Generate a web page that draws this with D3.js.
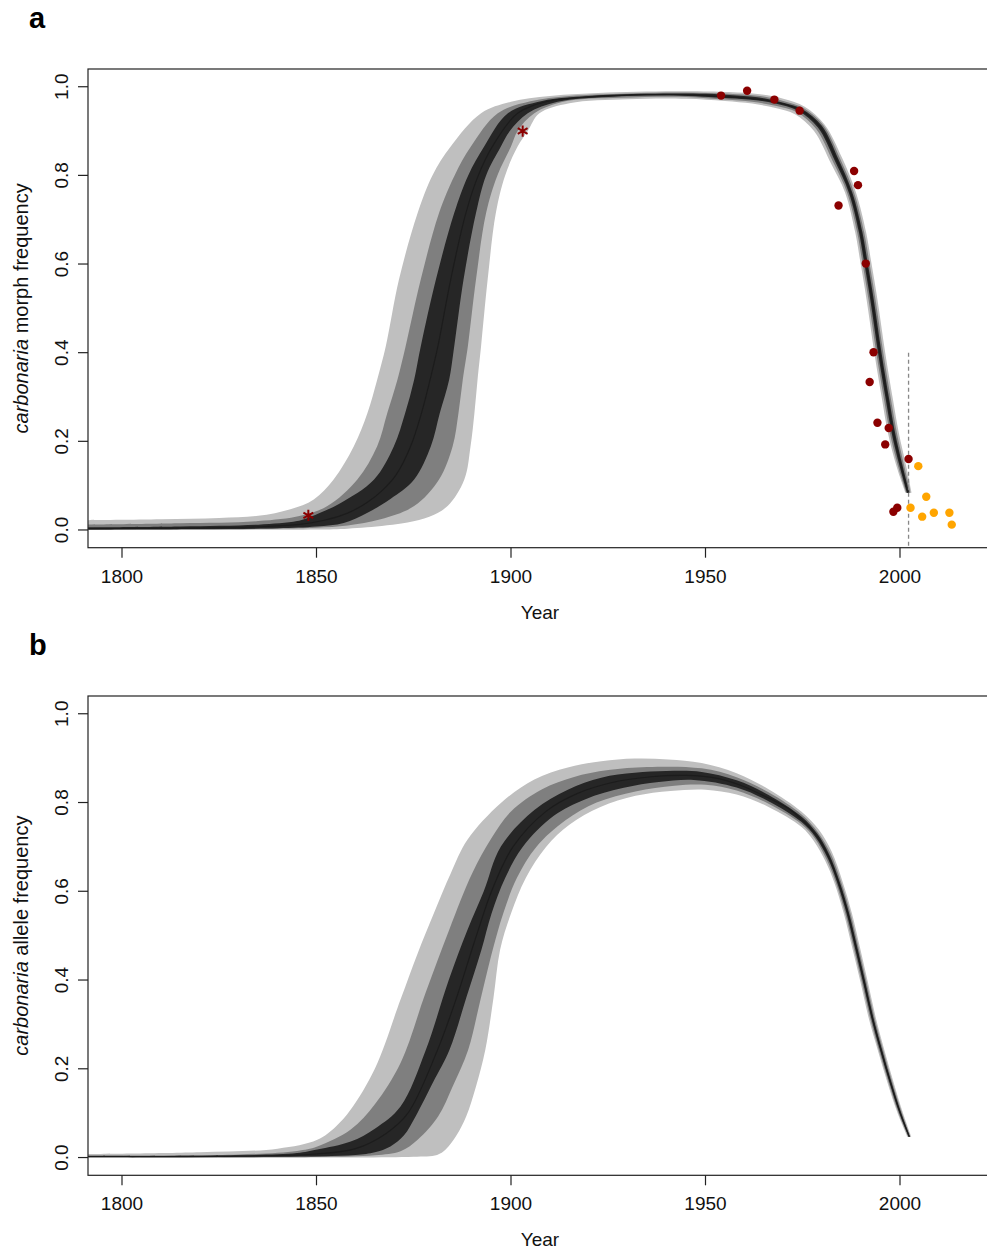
<!DOCTYPE html>
<html>
<head>
<meta charset="utf-8">
<script src="https://d3js.org/d3.v7.min.js"></script>
<style>
  body { margin: 0; background: #fff; }
  svg { display: block; font-family: "Liberation Sans", Arial, Helvetica, sans-serif; }
</style>
</head>
<body>
<svg id="chart" width="987" height="1251"></svg>

<script>
// ---- data (year, frequency) ----
// panel a: carbonaria morph frequency, credible bands
var aHi95 = [[1791.3,0.022],[1810,0.024],[1825,0.027],[1835,0.032],[1843.3,0.047],[1849.3,0.069],[1854.4,0.114],[1859.6,0.189],[1863.1,0.264],[1865.6,0.339],[1867.8,0.414],[1871.2,0.565],[1876,0.715],[1879.8,0.8],[1884.5,0.865],[1892.3,0.94],[1900,0.966],[1910,0.979],[1925,0.987],[1945,0.99],[1956,0.988],[1964,0.983],[1970,0.973],[1975.5,0.955],[1980.6,0.915],[1985.1,0.84],[1988.7,0.761],[1991.3,0.671],[1992.5,0.61],[1994.2,0.52],[1996.2,0.4],[1998.2,0.294],[1999.7,0.219],[2001.6,0.144],[2003,0.084]];
var aHi80 = [[1791.3,0.012],[1815,0.015],[1835,0.02],[1845.9,0.032],[1852.8,0.054],[1860.5,0.114],[1865.6,0.189],[1868.2,0.264],[1870.8,0.339],[1872.9,0.414],[1876.8,0.565],[1881.5,0.715],[1885.5,0.8],[1889.7,0.865],[1896.6,0.94],[1905,0.967],[1915,0.979],[1930,0.985],[1945,0.987],[1956,0.984],[1964,0.979],[1970,0.968],[1975.2,0.952],[1980.3,0.913],[1984.6,0.838],[1988.2,0.761],[1990.8,0.671],[1992,0.61],[1993.7,0.52],[1995.7,0.4],[1997.7,0.294],[1999.2,0.219],[2001.1,0.144],[2002.7,0.084]];
var aHi50 = [[1791.3,0.006],[1815,0.008],[1835,0.012],[1845,0.02],[1848.5,0.03],[1856,0.06],[1864.8,0.114],[1869.9,0.189],[1872.8,0.264],[1875.1,0.339],[1876.8,0.414],[1880.7,0.565],[1885.4,0.715],[1889,0.8],[1893.1,0.865],[1899.2,0.94],[1908,0.968],[1920,0.979],[1935,0.984],[1950,0.984],[1958,0.98],[1965,0.974],[1970,0.964],[1974.8,0.95],[1979.9,0.912],[1984.15,0.837],[1987.75,0.761],[1990.35,0.671],[1991.55,0.61],[1993.25,0.52],[1995.25,0.4],[1997.25,0.294],[1998.75,0.219],[2000.7,0.144],[2002.4,0.084]];
var aMed  = [[1791.3,0.003],[1815,0.004],[1835,0.007],[1845,0.012],[1852,0.022],[1858,0.038],[1863,0.062],[1867,0.09],[1870.5,0.125],[1874.2,0.189],[1877,0.264],[1879.2,0.339],[1881.2,0.414],[1884.5,0.565],[1888.4,0.715],[1891.6,0.8],[1895.2,0.865],[1901.7,0.94],[1910,0.968],[1920,0.977],[1935,0.982],[1945,0.982],[1954,0.978],[1961,0.974],[1967.7,0.966],[1974.3,0.948],[1979.4,0.91],[1983.7,0.835],[1987.3,0.761],[1989.9,0.671],[1991.1,0.61],[1992.8,0.52],[1994.8,0.4],[1996.8,0.294],[1998.3,0.219],[2000.3,0.144],[2002.1,0.084]];
var aLo50 = [[1791.3,0.001],[1820,0.002],[1840,0.004],[1850,0.008],[1857,0.016],[1863.1,0.039],[1869,0.07],[1875.1,0.114],[1879.4,0.189],[1881.7,0.264],[1884.1,0.339],[1885.4,0.414],[1887.8,0.565],[1891,0.715],[1893.6,0.8],[1897.4,0.865],[1899.7,0.9],[1904.3,0.94],[1912,0.966],[1925,0.977],[1940,0.98],[1954,0.975],[1961,0.971],[1967.7,0.963],[1973.8,0.946],[1978.9,0.908],[1983.25,0.833],[1986.85,0.761],[1989.45,0.671],[1990.65,0.61],[1992.35,0.52],[1994.35,0.4],[1996.35,0.294],[1997.85,0.219],[1999.9,0.144],[2001.8,0.084]];
var aLo80 = [[1791.3,0.0005],[1820,0.001],[1840,0.003],[1850,0.005],[1858,0.01],[1866.5,0.024],[1875.1,0.054],[1881.5,0.114],[1885,0.189],[1886.5,0.264],[1887.6,0.339],[1888.9,0.414],[1891,0.565],[1893.6,0.715],[1896.5,0.8],[1900,0.865],[1901.7,0.9],[1906,0.94],[1914,0.967],[1928,0.975],[1945,0.977],[1955,0.971],[1962,0.966],[1968,0.957],[1973.4,0.943],[1978.4,0.905],[1982.8,0.83],[1986.4,0.761],[1989,0.671],[1990.2,0.61],[1991.9,0.52],[1993.9,0.4],[1995.9,0.294],[1997.4,0.219],[1999.5,0.144],[2001.6,0.084]];
var aLo95 = [[1791.3,0],[1830,0.0002],[1850,0.001],[1858,0.003],[1863,0.006],[1873.4,0.017],[1879,0.03],[1883.7,0.054],[1888,0.114],[1889.6,0.189],[1890.6,0.264],[1891.4,0.339],[1892.3,0.414],[1894,0.565],[1896.1,0.715],[1898.5,0.8],[1901.7,0.865],[1904.3,0.9],[1907.3,0.94],[1915,0.963],[1930,0.972],[1945,0.973],[1955,0.968],[1962,0.962],[1968,0.952],[1973,0.938],[1977.9,0.9],[1982.3,0.826],[1985.9,0.761],[1988.5,0.671],[1989.7,0.61],[1991.4,0.52],[1993.4,0.4],[1995.4,0.294],[1996.9,0.219],[1999.1,0.144],[2001.4,0.084]];

// panel a: observed morph frequencies
var redYears    = [1954, 1960.7, 1967.7, 1974.2, 1984.2, 1988.2, 1989.2, 1991.2, 1993.2, 1992.2, 1994.2, 1997.1, 1996.2, 2002.2, 1999.3, 1998.3];
var redFreq     = [0.980, 0.991, 0.971, 0.946, 0.732, 0.810, 0.778, 0.601, 0.401, 0.334, 0.242, 0.230, 0.193, 0.160, 0.050, 0.041];
var orangeYears = [2004.7, 2002.7, 2006.75, 2005.7, 2008.7, 2012.7, 2013.3];
var orangeFreq  = [0.144, 0.050, 0.075, 0.030, 0.039, 0.039, 0.012];
var starYears   = [1847.9, 1903.0];
var starFreq    = [0.033, 0.900];
var cutYear     = 2002.2;
var cutFreq     = [0.4, -0.04];

// panel b: carbonaria allele frequency, credible bands
var bHi95 = [[1791.3,0.008],[1820,0.012],[1840,0.02],[1850.2,0.04],[1855,0.07],[1858.8,0.108],[1865,0.2],[1871.6,0.356],[1876,0.46],[1880.2,0.551],[1884.5,0.64],[1888.8,0.716],[1897.4,0.799],[1906,0.852],[1914.6,0.879],[1923.2,0.893],[1931.8,0.899],[1940.4,0.897],[1949,0.889],[1958,0.866],[1966.2,0.83],[1974.7,0.779],[1979.2,0.738],[1982.4,0.69],[1985.3,0.62],[1987.65,0.55],[1989.8,0.47],[1991.75,0.395],[1993.7,0.318],[1996.05,0.24],[1998.4,0.168],[2000.7,0.102],[2002.9,0.047]];
var bHi80 = [[1791.3,0.005],[1830,0.007],[1845,0.015],[1850.2,0.025],[1858.8,0.063],[1865,0.12],[1871.6,0.213],[1878,0.37],[1884.1,0.513],[1890,0.64],[1895,0.72],[1900,0.78],[1908,0.83],[1916,0.857],[1925,0.873],[1935,0.88],[1949,0.877],[1958,0.857],[1966.2,0.823],[1974.7,0.773],[1978.9,0.733],[1982.1,0.686],[1984.9,0.62],[1987.27,0.55],[1989.43,0.47],[1991.4,0.395],[1993.38,0.318],[1995.75,0.24],[1998.1,0.168],[2000.45,0.102],[2002.7,0.047]];
var bHi50 = [[1791.3,0.003],[1830,0.005],[1845,0.01],[1850.2,0.018],[1858.8,0.036],[1865,0.065],[1871.6,0.115],[1878,0.24],[1884,0.4],[1888.8,0.513],[1893,0.6],[1897.4,0.701],[1906,0.783],[1914.6,0.829],[1923.2,0.856],[1931.8,0.867],[1940,0.871],[1949,0.869],[1958,0.85],[1966.2,0.817],[1974.7,0.768],[1978.7,0.73],[1981.8,0.683],[1984.55,0.62],[1986.93,0.55],[1989.12,0.47],[1991.1,0.395],[1993.08,0.318],[1995.47,0.24],[1997.85,0.168],[2000.22,0.102],[2002.55,0.047]];
var bMed  = [[1791.3,0.002],[1830,0.003],[1850,0.008],[1860,0.02],[1868,0.055],[1873.5,0.1],[1881,0.24],[1886,0.36],[1890,0.47],[1891.6,0.513],[1895,0.6],[1900.5,0.7],[1909,0.78],[1917,0.82],[1926,0.845],[1936,0.858],[1945,0.861],[1952,0.856],[1959,0.839],[1966.2,0.81],[1971,0.788],[1974.7,0.762],[1978.5,0.726],[1981.6,0.679],[1984.2,0.62],[1986.6,0.55],[1988.8,0.47],[1990.8,0.395],[1992.8,0.318],[1995.2,0.24],[1997.6,0.168],[2000,0.102],[2002.4,0.047]];
var bLo50 = [[1791.3,0.001],[1840,0.002],[1860,0.006],[1865,0.012],[1869,0.025],[1872.5,0.05],[1875.5,0.093],[1880,0.17],[1884.2,0.243],[1888.5,0.36],[1892.4,0.468],[1895,0.55],[1898.5,0.63],[1903,0.7],[1911,0.77],[1919,0.807],[1929,0.833],[1938,0.846],[1947,0.851],[1958,0.834],[1966.2,0.803],[1974.7,0.756],[1978.3,0.722],[1981.4,0.675],[1983.85,0.62],[1986.27,0.55],[1988.48,0.47],[1990.5,0.395],[1992.52,0.318],[1994.93,0.24],[1997.35,0.168],[1999.78,0.102],[2002.25,0.047]];
var bLo80 = [[1791.3,0.0005],[1850,0.001],[1865,0.005],[1871.6,0.014],[1876,0.04],[1881.3,0.093],[1885,0.16],[1889,0.243],[1892,0.35],[1895.3,0.468],[1898,0.55],[1901.5,0.63],[1906.5,0.7],[1914,0.76],[1922,0.8],[1932,0.825],[1942,0.838],[1950,0.84],[1958,0.827],[1966.2,0.797],[1974.7,0.751],[1978.1,0.719],[1981.1,0.672],[1983.5,0.62],[1985.93,0.55],[1988.17,0.47],[1990.2,0.395],[1992.22,0.318],[1994.65,0.24],[1997.1,0.168],[1999.55,0.102],[2002.1,0.047]];
var bLo95 = [[1791.3,0],[1860,0.0003],[1875,0.002],[1881,0.006],[1883.2,0.018],[1886,0.05],[1888.5,0.093],[1891,0.16],[1893.4,0.243],[1895.5,0.36],[1897.2,0.468],[1900,0.55],[1903.8,0.63],[1909,0.7],[1915,0.75],[1923,0.79],[1932,0.815],[1941,0.826],[1950,0.829],[1958,0.818],[1966.2,0.79],[1974.7,0.745],[1977.8,0.714],[1980.8,0.668],[1983.1,0.62],[1985.55,0.55],[1987.8,0.47],[1989.85,0.395],[1991.85,0.318],[1994.35,0.24],[1996.8,0.168],[1999.3,0.102],[2001.9,0.047]];

// axes
var xTicks = [1800, 1850, 1900, 1950, 2000];
var yTicks = [0, 0.2, 0.4, 0.6, 0.8, 1.0];

var svg = d3.select("#chart");

var x = d3.scaleLinear().domain([1791.26, 2023.65]).range([88, 992]);

function curveLine(y) {
    return d3.line().x(d => x(d[0])).y(d => y(d[1])).curve(d3.curveCatmullRom.alpha(0.5));
}

function bandPath(y, upper, lower) {
    var l = curveLine(y);
    return l(upper) + l(lower.slice().reverse()).replace(/^M/, "L") + "Z";
}

function drawPanel(id, top, bottom, bands, label, titleRest) {
    var y = d3.scaleLinear().domain([-0.04, 1.04]).range([bottom, top]);
    var g = svg.append("g");

    svg.append("clipPath").attr("id", "clip" + id)
        .append("rect").attr("x", 88).attr("y", top).attr("width", 904).attr("height", bottom - top);

    var plot = g.append("g").attr("clip-path", "url(#clip" + id + ")");

    // light, medium, dark bands
    plot.append("path").attr("d", bandPath(y, bands.hi95, bands.lo95)).attr("fill", "#bfbfbf");
    plot.append("path").attr("d", bandPath(y, bands.hi80, bands.lo80)).attr("fill", "#7f7f7f");
    plot.append("path").attr("d", bandPath(y, bands.hi50, bands.lo50)).attr("fill", "#262626");

    // median line
    plot.append("path")
        .attr("d", curveLine(y)(bands.med))
        .attr("fill", "none").attr("stroke", "#1c1c1c").attr("stroke-width", 1.2);

    // box
    g.append("rect").attr("x", 88).attr("y", top).attr("width", 904).attr("height", bottom - top)
        .attr("fill", "none").attr("stroke", "#222").attr("stroke-width", 1.2);

    // y axis
    g.selectAll(".yt").data(yTicks).enter().append("line")
        .attr("x1", 78).attr("x2", 88)
        .attr("y1", d => y(d)).attr("y2", d => y(d))
        .attr("stroke", "#222").attr("stroke-width", 1.2);
    g.selectAll(".yl").data(yTicks).enter().append("text")
        .attr("transform", d => "translate(68," + y(d) + ") rotate(-90)")
        .attr("text-anchor", "middle")
        .attr("font-size", 19).attr("fill", "#111")
        .text(d => d.toFixed(1));

    // x axis
    g.selectAll(".xt").data(xTicks).enter().append("line")
        .attr("x1", d => x(d)).attr("x2", d => x(d))
        .attr("y1", bottom).attr("y2", bottom + 10)
        .attr("stroke", "#222").attr("stroke-width", 1.2);
    g.selectAll(".xl").data(xTicks).enter().append("text")
        .attr("x", d => x(d)).attr("y", bottom + 35)
        .attr("text-anchor", "middle")
        .attr("font-size", 19).attr("fill", "#111")
        .text(d => d);

    g.append("text").attr("x", 540).attr("y", bottom + 71)
        .attr("text-anchor", "middle").attr("font-size", 19).attr("fill", "#111")
        .text("Year");

    var yt = g.append("text")
        .attr("transform", "translate(28," + ((top + bottom) / 2) + ") rotate(-90)")
        .attr("text-anchor", "middle").attr("font-size", 20).attr("fill", "#111");
    yt.append("tspan").attr("font-style", "italic").text("carbonaria");
    yt.append("tspan").text(" " + titleRest);

    g.append("text").attr("x", 29).attr("y", top - 41)
        .attr("font-size", 29).attr("font-weight", "bold").attr("fill", "#000")
        .text(label);

    return { g: g, plot: plot, y: y };
}

var pa = drawPanel("a", 69, 547.7,
    { hi95: aHi95, hi80: aHi80, hi50: aHi50, med: aMed, lo50: aLo50, lo80: aLo80, lo95: aLo95 },
    "a", "morph frequency");

// dashed marker
pa.g.append("line")
    .attr("x1", x(cutYear)).attr("x2", x(cutYear))
    .attr("y1", pa.y(cutFreq[0])).attr("y2", pa.y(cutFreq[1]))
    .attr("stroke", "#888").attr("stroke-width", 1.3).attr("stroke-dasharray", "4,3");

// points
pa.g.selectAll(".red").data(redYears).enter().append("circle")
    .attr("cx", d => x(d)).attr("cy", (d, i) => pa.y(redFreq[i]))
    .attr("r", 4.2).attr("fill", "#8b0000");
pa.g.selectAll(".orange").data(orangeYears).enter().append("circle")
    .attr("cx", d => x(d)).attr("cy", (d, i) => pa.y(orangeFreq[i]))
    .attr("r", 4.2).attr("fill", "#ffa500");
pa.g.selectAll(".star").data(starYears).enter().append("path")
    .attr("transform", (d, i) => "translate(" + x(d) + "," + pa.y(starFreq[i]) + ")")
    .attr("d", d3.symbol(d3.symbolAsterisk, 90))
    .attr("fill", "none").attr("stroke", "#8b0000").attr("stroke-width", 2);

drawPanel("b", 696, 1175.3,
    { hi95: bHi95, hi80: bHi80, hi50: bHi50, med: bMed, lo50: bLo50, lo80: bLo80, lo95: bLo95 },
    "b", "allele frequency");
</script>
</body>
</html>
